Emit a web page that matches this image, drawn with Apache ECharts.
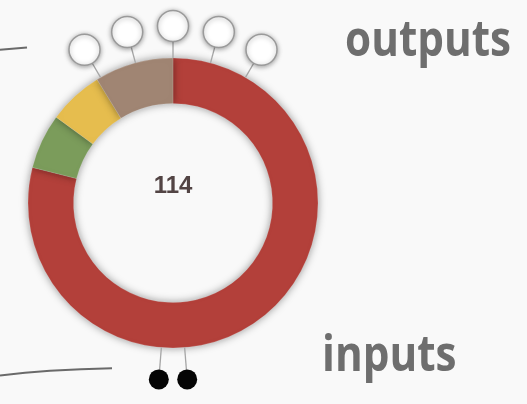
<!DOCTYPE html>
<html>
<head>
<meta charset="utf-8">
<script src="https://cdn.jsdelivr.net/npm/echarts@6/dist/echarts.min.js"></script>
<style>
html,body{margin:0;padding:0;background:#f9f9f9;}
#chart{width:527px;height:404px;}
</style>
</head>
<body>
<div id="chart"></div>
<script>
// ---- data ----
const segmentNames = ['Segment A', 'Segment B', 'Segment C', 'Segment D'];
const segmentValues = [90, 7, 7, 10];
const segmentColors = ['#b3403a', '#7b9c5b', '#e6bd4e', '#a08573'];
const outputAngles = [-30, -15, 0, 15, 30];   // degrees clockwise from top
const inputAngles = [175.4, 184.6];
const outputLabel = 'outputs';
const inputLabel = 'inputs';
const incomingEdge = [[0, 375.5], [50, 370.8], [112, 368.3]];
const outgoingEdge = [[0, 49.8], [27, 47.6]];

// ---- layout ----
const CX = 173, CY = 203, R_IN = 99.5, R_OUT = 145, R_NODE = 177;
const total = segmentValues.reduce((a, b) => a + b, 0);
const norm = a => (a + 360) % 360;

const chart = echarts.init(document.getElementById('chart'), null, {renderer: 'canvas'});

function connector(rStart, rEnd, color) {
  return function (params, api) {
    const a = api.value(0);
    const p1 = api.coord([rStart, a]);
    const p2 = api.coord([rEnd, a]);
    return {
      type: 'line',
      shape: {x1: p1[0], y1: p1[1], x2: p2[0], y2: p2[1]},
      style: {stroke: color, lineWidth: 1.3}
    };
  };
}

chart.setOption({
  backgroundColor: '#f9f9f9',
  animation: false,
  grid: {left: 0, right: 0, top: 0, bottom: 0, show: false},
  xAxis: {type: 'value', min: 0, max: 527, show: false},
  yAxis: {type: 'value', min: 0, max: 404, inverse: true, show: false},
  polar: {center: [CX, CY], radius: R_NODE},
  angleAxis: {type: 'value', min: 0, max: 360, startAngle: 90, clockwise: true, show: false},
  radiusAxis: {type: 'value', min: 0, max: R_NODE, show: false},
  graphic: [
    {type: 'text', x: CX, y: 186, z: 100,
     style: {text: String(total), font: 'bold 24px Arial, "Liberation Sans", sans-serif',
             fill: '#524444', textAlign: 'center', textVerticalAlign: 'middle'}},
    {type: 'text', x: 345, y: 17, scaleX: 0.845, z: 100,
     style: {text: outputLabel, font: 'bold 50px "Open Sans", sans-serif', fill: '#6e6e6e',
             textAlign: 'left', textVerticalAlign: 'top'}},
    {type: 'text', x: 322, y: 332, scaleX: 0.845, z: 100,
     style: {text: inputLabel, font: 'bold 50px "Open Sans", sans-serif', fill: '#6e6e6e',
             textAlign: 'left', textVerticalAlign: 'top'}}
  ],
  series: [
    {
      type: 'pie', center: [CX, CY], radius: [R_IN, R_OUT],
      startAngle: 90, clockwise: true, silent: true,
      label: {show: false}, labelLine: {show: false},
      itemStyle: {shadowBlur: 9, shadowColor: 'rgba(0,0,0,0.4)', borderColor: 'rgba(255,255,255,0.25)', borderWidth: 0.6},
      data: segmentNames.map((n, i) => ({name: n, value: segmentValues[i], itemStyle: {color: segmentColors[i]}})),
      z: 2
    },
    {
      type: 'custom', coordinateSystem: 'polar', silent: true, z: 3,
      renderItem: connector(R_OUT, R_NODE - 15, '#a5a5a5'),
      data: outputAngles.map(a => [norm(a)])
    },
    {
      type: 'custom', coordinateSystem: 'polar', silent: true, z: 3,
      renderItem: connector(R_OUT, R_NODE - 9, '#a5a5a5'),
      data: inputAngles.map(a => [norm(a)])
    },
    {
      type: 'scatter', coordinateSystem: 'polar', silent: true, z: 4,
      symbol: 'circle', symbolSize: 31,
      itemStyle: {color: '#ffffff', borderColor: '#9a9a9a', borderWidth: 1.5,
                  shadowBlur: 5, shadowColor: 'rgba(0,0,0,0.35)', shadowOffsetY: 1, opacity: 1},
      data: outputAngles.map(a => [R_NODE, norm(a)])
    },
    {
      type: 'scatter', coordinateSystem: 'polar', silent: true, z: 4,
      symbol: 'circle', symbolSize: 20,
      itemStyle: {color: '#050505', opacity: 1},
      data: inputAngles.map(a => [R_NODE, norm(a)])
    },
    {
      type: 'line', xAxisIndex: 0, yAxisIndex: 0, silent: true, smooth: true,
      symbol: 'none', lineStyle: {color: '#6a6a6a', width: 2},
      data: incomingEdge
    },
    {
      type: 'line', xAxisIndex: 0, yAxisIndex: 0, silent: true,
      symbol: 'none', lineStyle: {color: '#6a6a6a', width: 2},
      data: outgoingEdge
    }
  ]
});
</script>
</body>
</html>
